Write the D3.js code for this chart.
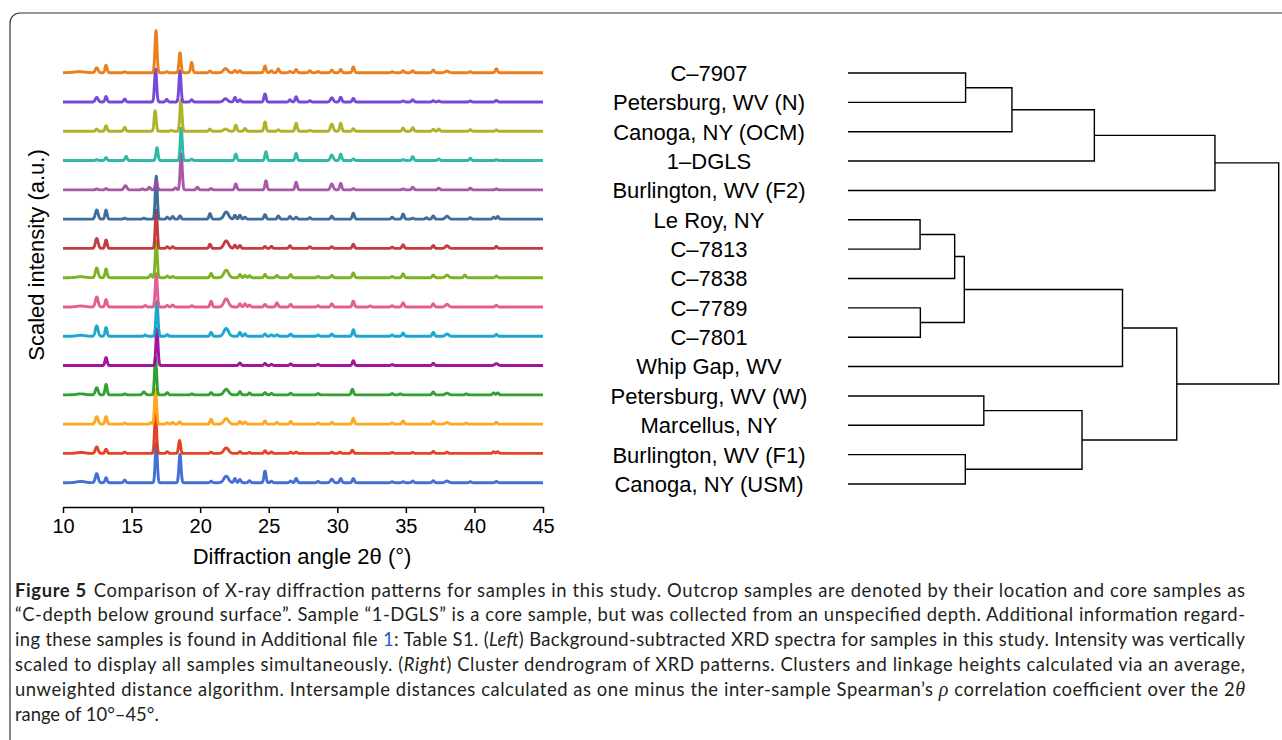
<!DOCTYPE html>
<html>
<head>
<meta charset="utf-8">
<script src="https://cdn.jsdelivr.net/npm/d3@7"></script>
<style>
  body { margin: 0; background: #fff; }
  svg { display: block; }
  .axis text { font-family: "Liberation Sans", Arial, sans-serif; font-size: 20px; fill: #000; }
  .axis path, .axis line { stroke: #000; stroke-width: 1.5; }
  .lab { font-family: "Liberation Sans", Arial, sans-serif; fill: #000; }
  .cap { font-family: Lato, "Open Sans", sans-serif; font-size: 18.4px; fill: #231f20; }
</style>
</head>
<body>
<svg id="fig" width="1282" height="740"></svg>
<script>
// x ticks of the spectra panel
var xTicks = [10, 15, 20, 25, 30, 35, 40, 45];

// one colour per trace, top trace first
var traceColors = ["#e9730c", "#6a3ad5", "#aaaa18", "#22b29e", "#a04aa0", "#2f5f90", "#be2b30",
  "#70ad10", "#e2508a", "#0aa0ca", "#9a009a", "#1f9a20", "#ffa00a", "#e2350e", "#3463d0"];

// peaks: [2theta, height (a.u.), width]
var tracePeaks = [
  [[11.2,1,0.4],[12.46,5,0.1],[13.14,7.7],[14.5,1],[16.78,43],[17.56,1],[18.53,20.5],[19.38,10.5],[20.72,1.7],[21.85,4.3,0.15],[22.54,2.3],[22.9,2],[24.73,7],[25.2,2],[25.7,4],[26.55,1.3],[27.0,3.3],[28.0,2],[28.6,1.3],[29.6,2.7],[30.25,3.3],[31.17,6],[34.0,1],[34.8,2],[35.5,2],[37.0,2.7],[38.0,1.7,0.12],[39.7,1],[41.6,4]],
  [[12.46,4.7,0.1],[13.14,5.7],[14.5,3],[16.75,34],[17.56,2.7],[18.53,32],[19.38,2.3],[21.85,3.3,0.15],[22.54,4.7],[22.9,2.3],[24.73,8.3],[26.55,2.3],[27.0,5.3],[28.0,1.3],[29.6,4.3,0.1],[30.25,5],[31.17,3.7],[34.8,1],[35.5,2.3],[37.0,1.3],[37.4,1],[39.7,1],[41.6,1.7]],
  [[12.46,2.3],[13.14,5.7],[14.5,4],[16.72,21],[17.9,1],[18.6,32],[20.72,2.3],[21.85,2.3,0.15],[22.6,6.3],[23.27,3],[24.73,9.7],[25.7,1.5],[27.0,8.3],[28.0,1],[29.6,7.3,0.1],[30.25,8.3],[31.17,2.7],[34.8,3.3],[35.5,3.7],[37.0,2],[37.4,2.3],[39.7,1.7],[41.6,1.3]],
  [[12.46,1],[13.14,3],[14.6,4.3],[16.85,13.3],[18.62,33],[19.38,1.5],[22.6,6.7],[24.8,9],[27.0,7.3],[29.6,5.7,0.1],[30.25,6.7],[31.17,1.7],[34.8,1],[35.5,4],[37.4,1.7],[39.7,2.3],[41.6,1]],
  [[12.46,1],[13.14,1.3],[14.55,4.3,0.1],[15.8,1],[16.3,2.7],[16.8,8.7],[18.2,2],[18.62,37],[19.8,2.7],[20.8,1.3],[22.6,6],[24.8,9.3],[27.0,7.7],[29.6,6,0.1],[30.25,6.7],[31.17,1.3],[34.8,1],[35.5,2.7],[37.4,1.7],[39.7,1.7],[41.6,1]],
  [[12.46,9.3,0.1],[13.14,9.3],[14.5,1],[15.9,1],[16.8,44],[17.6,2],[18.0,2.7],[18.53,3.3],[20.72,5.7],[21.9,7.3,0.17],[22.54,4],[22.9,4],[23.27,2],[24.73,4.7],[25.7,3.3],[26.55,2.7],[27.0,2],[28.0,1.5],[29.6,3],[31.17,6],[34.0,2],[34.8,5.3],[35.5,1],[36.5,1.5],[37.0,3.3],[38.0,3,0.12],[39.7,1.5],[41.4,2],[41.7,2.7]],
  [[12.46,10.3,0.1],[13.14,8.7],[16.8,39],[17.6,1.7],[18.0,1.7],[20.72,4.3],[21.9,7.7,0.17],[22.54,3.3],[22.9,3],[24.73,2],[25.2,2],[26.55,2.7],[28.0,1.7],[29.6,1.7],[31.17,4.3],[34.0,1.3],[34.8,3.7],[37.0,3],[38.0,2.7,0.12],[41.6,2]],
  [[11.3,1,0.3],[12.46,10,0.1],[13.14,9],[16.4,3.3],[16.8,38],[17.6,1.7],[18.0,1.3],[20.8,4.3],[21.9,7.7,0.17],[22.9,3.3],[23.27,2.3],[23.6,2],[24.73,3.3],[25.6,2.3],[26.6,3.3],[28.6,1.3],[29.6,2.3],[31.17,5],[34.0,1.3],[34.8,4],[37.0,2.7],[38.0,2.7,0.12],[39.3,2.7],[41.6,1.7]],
  [[11.3,1,0.3],[12.46,10.3,0.1],[13.14,7.7],[16.0,1.5],[16.8,34],[17.6,1.7],[18.0,2],[19.4,1.3],[20.8,6],[21.9,8.3,0.17],[22.9,3.3],[23.27,3.3],[23.6,2],[24.73,2.7],[25.6,4.3],[26.6,2.7],[28.6,1.3],[29.6,3.3],[31.17,6],[32.4,1],[34.0,1.3],[34.8,4.3],[37.0,3.3],[38.0,2.7,0.12],[41.6,1.7]],
  [[11.3,1,0.3],[12.46,10.7,0.1],[13.14,9],[16.0,1.3],[16.85,36],[17.6,1.7],[20.8,4],[21.9,8,0.17],[22.9,4],[23.27,2.5],[24.73,2.3],[25.2,1.5],[25.6,1.5],[26.6,2.3],[28.6,1.3],[29.6,2.3],[31.17,6.7],[34.0,1.3],[34.8,3.3],[37.0,4],[38.0,2.3,0.12],[41.6,2]],
  [[13.14,8.3],[16.85,38],[22.9,2.7],[24.73,2.3],[25.2,1.3],[26.6,1.7],[28.6,1.3],[31.17,5],[34.0,1],[37.0,2.3],[41.6,2,0.12]],
  [[11.3,1,0.3],[12.46,7.3,0.1],[13.14,10.7],[14.5,1],[15.9,3,0.1],[16.75,38],[17.6,2.3],[19.4,1],[20.8,2.3],[21.9,5.7,0.17],[22.9,3.3],[23.6,2],[24.73,2.3],[25.2,1.5],[26.6,1.7],[28.6,1.3],[31.1,5.7],[34.0,1.3],[34.6,1],[37.0,3],[38.0,1.7,0.12],[39.4,1],[41.4,2],[41.7,2]],
  [[12.46,7.7,0.1],[13.14,7.7],[14.5,1],[16.4,1.5],[16.75,36],[17.6,1.3],[18.0,1.7],[18.5,2.3],[20.8,5],[21.9,5.7,0.17],[22.9,2.7],[23.27,2.3],[24.73,3.3],[25.6,1.7],[26.6,2.7],[28.6,1.3],[29.6,1.7],[31.17,6],[34.0,1.3],[34.8,3.3],[37.0,2.7],[38.0,1.7,0.12],[39.4,1],[41.6,2]],
  [[11.3,1,0.3],[12.46,6.7,0.1],[13.14,4.3],[14.5,1.3],[16.75,40],[17.6,1.7],[18.5,13.3],[20.8,1.3],[21.9,5.7,0.17],[22.9,1.7],[23.6,1],[24.73,2.7],[25.2,1.5],[26.6,1.3],[27.0,1.3],[29.6,1.3],[30.2,1.3],[31.1,3.3],[34.0,1],[35.5,1],[37.0,2],[38.0,1.3],[41.4,1.7],[41.7,1.7]],
  [[11.3,1.3,0.3],[12.46,9.3,0.1],[13.14,5],[14.5,2.7],[16.8,40],[18.53,29.3],[20.8,1.5],[21.9,6.7,0.17],[22.54,4.3],[22.9,3.3],[23.6,2],[24.73,12],[25.2,1.5],[26.6,1.7],[27.0,4.3],[28.6,1.3],[29.6,3.7,0.1],[30.25,4.3],[31.17,4.3],[34.0,1],[34.8,1],[35.5,1.7],[37.0,2],[38.0,1.7,0.12],[39.7,1],[41.6,1.3]]
];

// dendrogram leaves, top to bottom
var leafLabels = ["C\u20137907", "Petersburg, WV (N)", "Canoga, NY (OCM)", "1\u2013DGLS", "Burlington, WV (F2)",
  "Le Roy, NY", "C\u20137813", "C\u20137838", "C\u20137789", "C\u20137801", "Whip Gap, WV",
  "Petersburg, WV (W)", "Marcellus, NY", "Burlington, WV (F1)", "Canoga, NY (USM)"];

// hclust style merges: negative = leaf (1-based), positive = earlier merge
var mergePairs = [[-6,-7],[-9,-10],[1,-8],[3,2],[-1,-2],[-14,-15],[-12,-13],[5,-3],[7,6],[8,-4],[4,-11],[11,9],[10,-5],[13,12]];
var mergeHeights = [0.0502,0.0504,0.0743,0.0810,0.0819,0.0817,0.0946,0.1142,0.1630,0.1716,0.1912,0.2290,0.2556,0.3000];

var captionLines = [
  [["Figure 5", "b"], ["Comparison of X-ray diffraction patterns for samples in this study. Outcrop samples are denoted by their location and core samples as", "gap"]],
  [["\u201cC-depth below ground surface\u201d. Sample \u201c1-DGLS\u201d is a core sample, but was collected from an unspecified depth. Additional information regard-"]],
  [["ing these samples is found in Additional file "], ["1", "link"], [": Table S1. ("], ["Left", "i"], [") Background-subtracted XRD spectra for samples in this study. Intensity was vertically"]],
  [["scaled to display all samples simultaneously. ("], ["Right", "i"], [") Cluster dendrogram of XRD patterns. Clusters and linkage heights calculated via an average,"]],
  [["unweighted distance algorithm. Intersample distances calculated as one minus the inter-sample Spearman\u2019s "], ["\u03c1", "m"], [" correlation coefficient over the 2"], ["\u03b8", "m"]],
  [["range of 10\u00b0\u201345\u00b0."]]
];

var svg = d3.select("#fig");

// frame
svg.append("path")
  .attr("d", "M10,760V23A10,10 0 0 1 20,13H1300")
  .attr("fill", "none").attr("stroke", "#333").attr("stroke-width", 1.2);

// ---- spectra ----
var x = d3.scaleLinear().domain([10, 45]).range([63, 543]);
var step = 30;
var y = d3.scaleLinear().domain([0, step * 14]).range([482.7, 72.7]);
var grid = d3.range(0, 1751).map(k => 10 + k * 0.02);

function profile(peaks) {
  return grid.map(t => {
    var v = 0;
    peaks.forEach(p => {
      var s = p[2] || 0.075, d = t - p[0];
      v += p[1] * Math.exp(-d * d / (2 * s * s));
    });
    return [t, v];
  });
}

var traces = tracePeaks.map((pk, i) => ({ color: traceColors[i], offset: (14 - i) * step, pts: profile(pk) }));

var line = d3.line().x(d => x(d[0]));

svg.append("g").selectAll("path")
  .data(traces.slice().reverse())
  .enter().append("path")
  .attr("fill", "none")
  .attr("stroke", d => d.color)
  .attr("stroke-width", 2.9)
  .attr("stroke-linejoin", "round")
  .attr("stroke-opacity", 0.92)
  .attr("d", d => line.y(p => y(d.offset + p[1]))(d.pts));

svg.append("g")
  .attr("class", "axis")
  .attr("transform", "translate(0,507)")
  .call(d3.axisBottom(x).tickValues(xTicks).tickSize(6).tickSizeOuter(0).tickPadding(6));

svg.append("text").attr("class", "lab")
  .attr("x", 302).attr("y", 564)
  .attr("text-anchor", "middle").style("font-size", "22px")
  .text("Diffraction angle 2\u03b8 (\u00b0)");

svg.append("text").attr("class", "lab")
  .attr("transform", "translate(44,255) rotate(-90)")
  .attr("text-anchor", "middle").style("font-size", "22px")
  .text("Scaled intensity (a.u.)");

// ---- dendrogram ----
var rowY = d3.scalePoint().domain(d3.range(leafLabels.length)).range([73, 484]);
var hx = d3.scaleLinear().domain([0, 0.30]).range([848, 1278.7]);
var nodes = [];

function pos(ref) {
  return ref < 0 ? { x: hx(0), y: rowY(-ref - 1) } : nodes[ref - 1];
}

var links = mergePairs.map((pair, k) => {
  var a = pos(pair[0]), b = pos(pair[1]);
  var m = { x: hx(mergeHeights[k]), y: (a.y + b.y) / 2 };
  nodes.push(m);
  return "M" + a.x + "," + a.y + "H" + m.x + "V" + b.y + "H" + b.x;
});

svg.append("g").selectAll("path")
  .data(links).enter().append("path")
  .attr("d", d => d)
  .attr("fill", "none").attr("stroke", "#000").attr("stroke-width", 1.4);

svg.append("g").selectAll("text")
  .data(leafLabels).enter().append("text")
  .attr("class", "lab")
  .attr("x", 709).attr("y", (d, i) => rowY(i))
  .attr("dy", "0.36em").attr("text-anchor", "middle")
  .style("font-size", "22px")
  .text(d => d);

// ---- caption ----
var cap = svg.append("g").attr("class", "cap");
captionLines.forEach((segs, i) => {
  var t = cap.append("text").attr("x", 15).attr("y", 596.5 + i * 24.8);
  if (i < 5) t.attr("textLength", 1230).attr("lengthAdjust", "spacing");
  segs.forEach(s => {
    var ts = t.append("tspan").text(s[0]);
    if (s[1] === "b") ts.style("font-weight", "bold");
    if (s[1] === "gap") ts.attr("dx", 7);
    if (s[1] === "i") ts.style("font-style", "italic");
    if (s[1] === "link") ts.style("fill", "#1f5fc8");
    if (s[1] === "m") ts.style("font-style", "italic").style("font-family", "'Liberation Serif', serif").style("font-size", "20px");
  });
});
</script>
</body>
</html>
